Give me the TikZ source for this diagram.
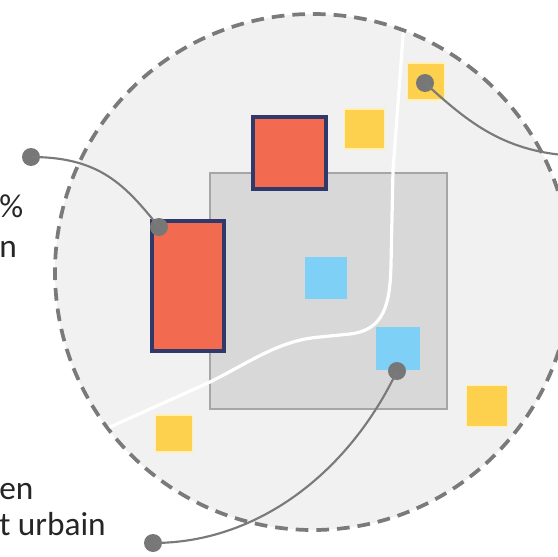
\documentclass[tikz,border=0pt]{standalone}
\usepackage{fontspec}
\setmainfont{Carlito}
\begin{document}
\begin{tikzpicture}[x=0.75pt,y=-0.75pt,
  redbox/.style={draw=navy,fill=redf,line width=2.4pt,minimum width=#1,inner sep=0pt},
  bluebox/.style={fill=bluef,inner sep=0pt,minimum size=#1},
  yelbox/.style={fill=yelf,draw=yelb,line width=1.2pt,inner sep=0pt,minimum size=#1},
  dotn/.style={circle,fill=dotc,inner sep=0pt,minimum size=13.5pt},
  conn/.style={draw=linec,line width=1.6pt},
  lbl/.style={font=\fontsize{25}{26}\selectfont,text=textc,inner sep=0pt,anchor=base west}]
\definecolor{navy}{HTML}{2F3A6B}
\definecolor{redf}{HTML}{F26A4F}
\definecolor{bluef}{HTML}{7FD0F6}
\definecolor{yelf}{HTML}{FDD14E}
\definecolor{yelb}{HTML}{FFF0B8}
\definecolor{dotc}{HTML}{777777}
\definecolor{linec}{HTML}{7A7A7A}
\definecolor{textc}{HTML}{262626}
\definecolor{circf}{HTML}{F1F1F1}
\definecolor{sqf}{HTML}{D8D8D8}
\definecolor{sqb}{HTML}{A6A6A6}
\useasboundingbox (0,0) rectangle (558,557);
\clip (0,0) rectangle (558,557);
\fill[white] (0,0) rectangle (558,557);
% big dashed circle
\draw[fill=circf,draw=linec,line width=2.8pt,dash pattern=on 9.5pt off 6pt] (313,272) circle[radius=258*0.75pt];
% gray square
\node[draw=sqb,fill=sqf,line width=2.2pt,inner sep=0pt,minimum width=177.75pt,minimum height=177pt] (zone) at (328.5,291) {};
% white road
\begin{scope}
\clip (313,272) circle[radius=256*0.75pt];
\draw[white,line width=2.4pt] (90,436) -- (210,382) .. controls (250,362) and (280,340) .. (320,337) -- (350,334) .. controls (384,330) and (390,305) .. (391,265) -- (393,170) -- (405,10);
\end{scope}
% boxes
\node[redbox=54.75pt,minimum height=54pt] (r1) at (289.5,153) {};
\node[redbox=54pt,minimum height=97.5pt] (r2) at (188,286) {};
\node[bluebox=31.5pt] (b1) at (326,278) {};
\node[fill=bluef,inner sep=0pt,minimum width=33pt,minimum height=32.25pt] (b2) at (398,348.5) {};
\node[yelbox=30pt] (y1) at (364.5,129) {};
\node[yelbox=28pt] (y2) at (426,81.5) {};
\node[yelbox=30.75pt] (y3) at (487,406) {};
\node[yelbox=28pt] (y4) at (174,433.5) {};
% dots
\node[dotn] (d1) at (31,157) {};
\node[dotn] (d1b) at (159,227) {};
\node[dotn] (d2) at (425,83) {};
\coordinate (d2b) at (580,156);
\node[dotn] (d3) at (397,371) {};
\node[dotn] (d3b) at (153,543) {};
% connectors
\draw[conn] (d1.center) .. controls (100,157) and (125,185) .. (d1b.center);
\draw[conn] (d2.center) .. controls (468,122) and (505,154) .. (d2b);
\draw[conn] (d3.center) .. controls (350,470) and (260,543) .. (d3b.center);
% texts
\node[lbl] (t1) at (-1,217) {\%};
\node[lbl] (t2) at (-1,257) {n};
\node[lbl] (t3) at (-1,499) {en};
\node[lbl] (t4) at (-1,535) {t urbain};
\end{tikzpicture}
\end{document}
